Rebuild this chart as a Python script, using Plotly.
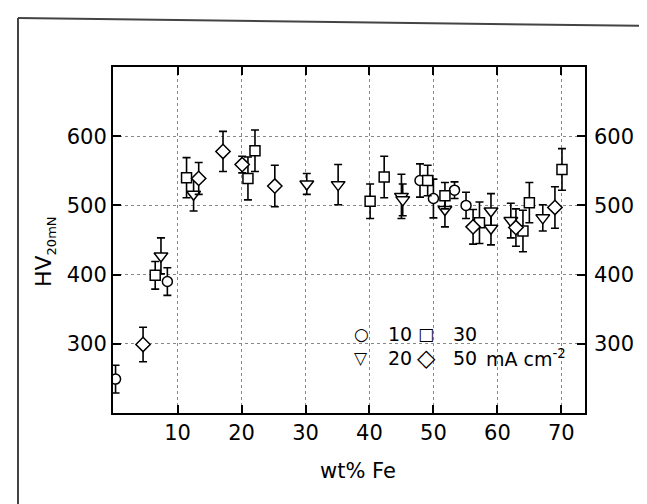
import plotly.graph_objects as go

# ---- data (wt% Fe vs HV_20mN) ----
x10 = [0.3, 8.4, 47.9, 50.0, 53.3, 55.1]
y10 = [249, 390, 536, 510, 522, 500]
e10 = [20, 20, 24, 28, 12, 19]

x20 = [7.4, 12.5, 30.2, 35.1, 45.0, 45.2, 51.8, 59.0, 59.0, 62.1, 67.1]
y20 = [427, 516, 531, 530, 513, 508, 494, 492, 467, 478, 482]
e20 = [26, 24, 15, 29, 32, 23, 25, 25, 24, 25, 19]

x30 = [6.5, 11.4, 21.0, 22.1, 40.1, 42.3, 49.1, 51.8, 57.2, 64.0, 65.0, 70.1]
y30 = [399, 540, 539, 579, 506, 541, 536, 514, 475, 463, 504, 552]
e30 = [20, 29, 31, 30, 25, 30, 22, 19, 30, 30, 29, 30]

x50 = [4.6, 13.3, 17.1, 20.1, 25.2, 56.2, 62.9, 69.0]
y50 = [299, 539, 578, 559, 528, 469, 468, 497]
e50 = [25, 23, 29, 12, 30, 25, 27, 30]

xticks = [10, 20, 30, 40, 50, 60, 70]
yticks = [300, 400, 500, 600]
xrange_ = [-0.1, 73.7]
yrange_ = [200, 700]

FONT = "DejaVu Sans"
fig = go.Figure()

def add(xs, ys, es, symbol, size, yaxis="y"):
    fig.add_trace(go.Scatter(
        x=xs, y=ys, mode="markers", yaxis=yaxis,
        error_y=dict(type="data", array=es, visible=True, color="black",
                     thickness=1.6, width=4),
        marker=dict(symbol=symbol, size=size, color="white",
                    line=dict(color="black", width=1.5)),
        showlegend=False, hoverinfo="skip"))

add(x10, y10, e10, "circle", 10)
add(x20, y20, e20, "triangle-down", 12)
add(x30, y30, e30, "square", 10)
add(x50, y50, e50, "diamond", 11, yaxis="y2")

axis_common = dict(showline=True, linecolor="black", linewidth=2,
                   ticks="inside", ticklen=8, tickwidth=2, tickcolor="black",
                   tickfont=dict(family=FONT, size=21, color="black"),
                   zeroline=False)

fig.update_layout(
    width=647, height=504,
    margin=dict(l=105, r=70, t=59, b=99),
    paper_bgcolor="white", plot_bgcolor="white",
    font=dict(family=FONT, color="black"),
    xaxis=dict(range=xrange_, tickvals=xticks, mirror="ticks",
               showgrid=True, gridcolor="#888", griddash="dot", gridwidth=1,
               **axis_common),
    yaxis=dict(range=yrange_, tickvals=yticks, mirror="ticks",
               showgrid=True, gridcolor="#888", griddash="dot", gridwidth=1,
               **axis_common),
    yaxis2=dict(range=yrange_, tickvals=yticks, overlaying="y", side="right",
                anchor="x", showgrid=False, showline=False, ticks="",
                ticklabelstandoff=8,
                tickfont=dict(family=FONT, size=21, color="black"),
                zeroline=False),
)

def px2x(p):
    return (p - 105) / 472.0

def py2y(p):
    return (405 - p) / 346.0

ann = []
# axis titles
ann.append(dict(text="wt% Fe", x=px2x(350), y=py2y(463), xref="paper", yref="paper",
                showarrow=False, font=dict(family=FONT, size=21), xanchor="center", yanchor="middle"))
ann.append(dict(text="HV<sub><span style='font-size:13px'>20mN</span></sub>", x=px2x(37), y=py2y(244),
                xref="paper", yref="paper",
                showarrow=False, textangle=-90, font=dict(family=FONT, size=22),
                xanchor="center", yanchor="middle"))
# in-plot key
r1, r2 = py2y(326), py2y(350)
for sym, xp, yp, fs in [("○", 353, r1, 17), ("□", 418, r1, 17), ("▽", 353, r2, 17), ("◇", 418, r2, 24)]:
    ann.append(dict(text=sym, x=px2x(xp), y=yp, xref="paper", yref="paper", showarrow=False,
                    font=dict(family=FONT, size=fs, color="black"), xanchor="center", yanchor="middle"))
for lab, xp, yp in [("10", 392, r1), ("30", 457, r1), ("20", 392, r2), ("50", 457, r2)]:
    ann.append(dict(text=lab, x=px2x(xp), y=yp, xref="paper", yref="paper", showarrow=False,
                    font=dict(family=FONT, size=19), xanchor="center", yanchor="middle"))
ann.append(dict(text="mA cm<sup>-2</sup>", x=px2x(476), y=r2, xref="paper", yref="paper",
                showarrow=False, font=dict(family=FONT, size=19), xanchor="left", yanchor="middle"))
fig.update_layout(annotations=ann)

# scanned page frame
frame = dict(type="line", xref="paper", yref="paper", line=dict(color="#444", width=2))
fig.update_layout(shapes=[
    dict(frame, x0=px2x(10), y0=py2y(10), x1=px2x(646), y1=py2y(18)),
    dict(frame, x0=px2x(10), y0=py2y(10), x1=px2x(10), y1=py2y(500)),
    dict(frame, x0=px2x(10), y0=py2y(500), x1=px2x(640), y1=py2y(500)),
    dict(frame, x0=px2x(637), y0=py2y(18), x1=px2x(637), y1=py2y(500)),
])

fig.write_html("out.html")
